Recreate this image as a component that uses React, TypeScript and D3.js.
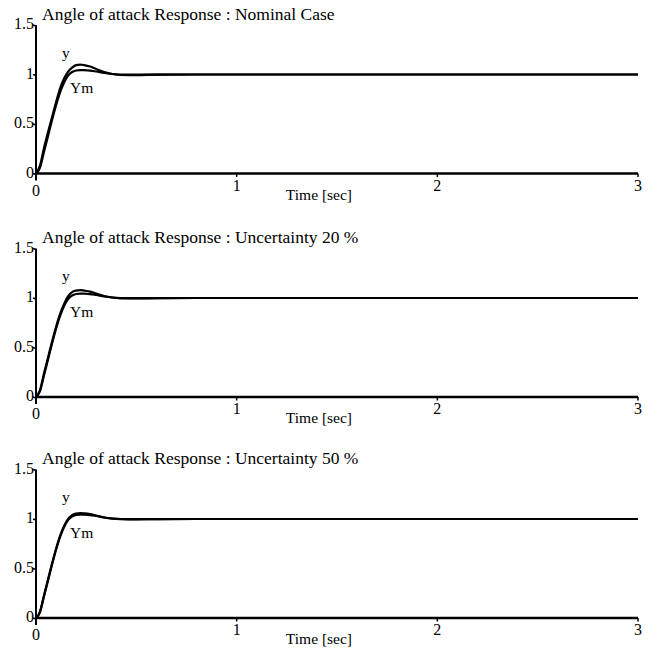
import React from 'react';
import * as d3 from 'd3';

// time samples [sec]
const timeSec = [0, 0.02, 0.04, 0.06, 0.08, 0.1, 0.12, 0.14, 0.16, 0.18, 0.2, 0.22, 0.24, 0.27, 0.3, 0.34, 0.38, 0.42, 0.5, 0.6, 0.8, 1.0, 1.5, 2.0, 2.5, 3.0];

// reference model output Ym (same in every case)
const ymModel = [0, 0.06, 0.22, 0.38, 0.54, 0.69, 0.82, 0.92, 0.99, 1.025, 1.04, 1.045, 1.045, 1.04, 1.03, 1.015, 1.005, 1.0, 0.998, 0.999, 1.0, 1.0, 1.0, 1.0, 1.0, 1.0];

// plant output y for each case
const yNominal = [0, 0.08, 0.26, 0.42, 0.57, 0.72, 0.86, 0.96, 1.03, 1.07, 1.095, 1.1, 1.095, 1.08, 1.055, 1.025, 1.005, 0.995, 0.993, 0.998, 1.0, 1.0, 1.0, 1.0, 1.0, 1.0];
const yUnc20 = [0, 0.07, 0.24, 0.4, 0.56, 0.71, 0.84, 0.94, 1.02, 1.06, 1.075, 1.08, 1.075, 1.065, 1.045, 1.02, 1.005, 0.997, 0.995, 0.998, 1.0, 1.0, 1.0, 1.0, 1.0, 1.0];
const yUnc50 = [0, 0.065, 0.23, 0.39, 0.55, 0.7, 0.83, 0.93, 1.0, 1.04, 1.055, 1.06, 1.058, 1.05, 1.035, 1.015, 1.003, 0.998, 0.996, 0.999, 1.0, 1.0, 1.0, 1.0, 1.0, 1.0];

const panelTitles = [
  'Angle of attack Response : Nominal Case',
  'Angle of attack Response : Uncertainty 20 %',
  'Angle of attack Response : Uncertainty 50 %',
];
const panelSeries = [yNominal, yUnc20, yUnc50];

const yTicks = [0, 0.5, 1, 1.5];
const yTickLabels = ['0', '0.5', '1', '1.5'];
const xTicks = [0, 1, 2, 3];
const xLabel = 'Time [sec]';

const W = 655;
const H = 653;
const panelZero = [173.5, 397, 618];
const font = '"Liberation Serif", "Times New Roman", serif';

const x = d3.scaleLinear().domain([0, 3]).range([36, 638]);

const Panel = ({ idx }: { idx: number }) => {
  const y0 = panelZero[idx];
  const y = d3.scaleLinear().domain([0, 1.5]).range([y0, y0 - 148.5]);
  const line = d3
    .line<number>()
    .x((_, i) => x(timeSec[i]))
    .y((d) => y(d))
    .curve(d3.curveMonotoneX);

  return (
    <g>
      {/* title */}
      <text x={42} y={y0 - 154} fontSize={17.5} fontFamily={font}>
        {panelTitles[idx]}
      </text>

      {/* y axis */}
      <line x1={x(0)} x2={x(0)} y1={y(1.5)} y2={y0 + 7} stroke="#000" strokeWidth={2} />
      {yTicks.map((t, i) => (
        <g key={'yt' + t}>
          <line x1={x(0) - 3} x2={x(0)} y1={y(t)} y2={y(t) + 1} stroke="#000" strokeWidth={1.4} />
          <text
            x={x(0) - 2}
            y={y(t) + 4}
            textAnchor="end"
            fontSize={16}
            fontFamily={font}
          >
            {yTickLabels[i]}
          </text>
        </g>
      ))}

      {/* x axis */}
      <line x1={x(0)} x2={x(3)} y1={y0} y2={y0} stroke="#000" strokeWidth={2.3} />
      {xTicks.map((t) => (
        <g key={'xt' + t}>
          {t > 0 && (
            <line x1={x(t)} x2={x(t)} y1={y0} y2={y0 + 3.5} stroke="#000" strokeWidth={1.5} />
          )}
          <text
            x={x(t)}
            y={y0 + (t === 0 ? 22 : 17)}
            textAnchor="middle"
            fontSize={16}
            fontFamily={font}
          >
            {t}
          </text>
        </g>
      ))}
      <text x={x(1.41)} y={y0 + 26} textAnchor="middle" fontSize={15.5} fontFamily={font}>
        {xLabel}
      </text>

      {/* responses */}
      <path d={line(ymModel) || ''} fill="none" stroke="#000" strokeWidth={2.2} />
      <path d={line(panelSeries[idx]) || ''} fill="none" stroke="#000" strokeWidth={2.2} />

      {/* curve labels */}
      <text x={x(0.13)} y={y(1.17)} fontSize={15.5} fontFamily={font}>
        y
      </text>
      <text x={x(0.17)} y={y(0.81)} fontSize={15.5} fontFamily={font}>
        Ym
      </text>
    </g>
  );
};

export default function App() {
  return (
    <svg
      width={W}
      height={H}
      style={{ position: 'absolute', left: 0, top: 0, background: '#fff' }}
    >
      <rect width={W} height={H} fill="#fff" />
      {panelTitles.map((_, i) => (
        <Panel key={i} idx={i} />
      ))}
    </svg>
  );
}
